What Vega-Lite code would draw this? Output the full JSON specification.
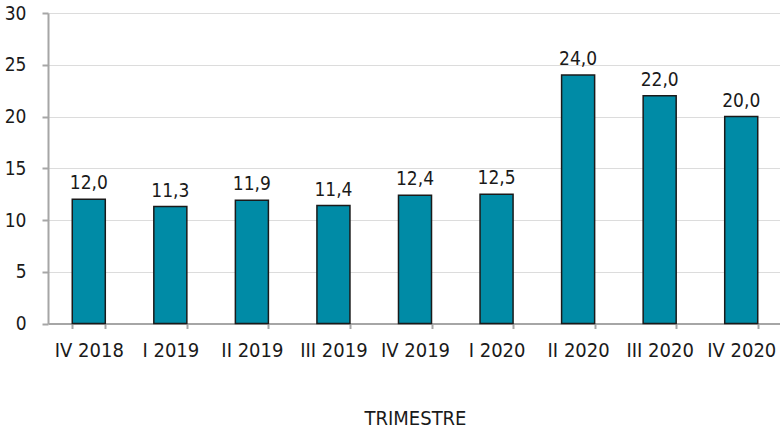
{
  "$schema": "https://vega.github.io/schema/vega-lite/v6.json",
  "autosize": {"type": "none"},
  "padding": {"left": 48, "top": 13, "right": 0, "bottom": 105.5},
  "width": 734,
  "height": 310.5,
  "background": "white",
  "config": {
    "locale": {"number": {"decimal": ",", "thousands": ".", "grouping": [3], "currency": ["", " €"]}},
    "view": {"stroke": null},
    "font": "'DejaVu Sans Condensed', 'Liberation Sans Narrow', sans-serif"
  },
  "data": {
    "values": [
      {"trimestre": "IV 2018", "valor": 12.0},
      {"trimestre": "I 2019", "valor": 11.3},
      {"trimestre": "II 2019", "valor": 11.9},
      {"trimestre": "III 2019", "valor": 11.4},
      {"trimestre": "IV 2019", "valor": 12.4},
      {"trimestre": "I 2020", "valor": 12.5},
      {"trimestre": "II 2020", "valor": 24.0},
      {"trimestre": "III 2020", "valor": 22.0},
      {"trimestre": "IV 2020", "valor": 20.0}
    ]
  },
  "encoding": {
    "x": {
      "field": "trimestre",
      "type": "nominal",
      "sort": null,
      "scale": {"paddingInner": 0.595, "paddingOuter": 0.2975},
      "axis": {
        "title": "TRIMESTRE",
        "titleFont": "'DejaVu Sans Condensed', 'Liberation Sans Narrow', sans-serif",
        "titleFontSize": 20,
        "titleFontWeight": "normal",
        "titleColor": "#1a1a1a",
        "titleBaseline": "alphabetic",
        "titleY": 100.5,
        "labelAngle": 0,
        "labelFontSize": 20,
        "labelColor": "#1a1a1a",
        "labelPadding": 12,
        "tickBand": "extent",
        "tickSize": 5,
        "tickColor": "#a6a6a6",
        "tickWidth": 2,
        "domainColor": "#a6a6a6",
        "domainWidth": 2,
        "grid": false
      }
    },
    "y": {
      "field": "valor",
      "type": "quantitative",
      "scale": {"domain": [0, 30], "nice": false},
      "axis": {
        "title": null,
        "values": [0, 5, 10, 15, 20, 25, 30],
        "labelFontSize": 19,
        "labelColor": "#1a1a1a",
        "labelPadding": 16,
        "tickSize": 6,
        "tickColor": "#a6a6a6",
        "tickWidth": 2,
        "domainColor": "#a6a6a6",
        "domainWidth": 2,
        "gridColor": "#dcdcdc",
        "gridWidth": 1
      }
    }
  },
  "layer": [
    {
      "mark": {"type": "bar", "color": "#008ba6", "stroke": "#1a1a1a", "strokeWidth": 1.5}
    },
    {
      "mark": {"type": "text", "baseline": "alphabetic", "dy": -10, "fontSize": 19, "color": "#1a1a1a"},
      "encoding": {
        "text": {"field": "valor", "type": "quantitative", "format": ".1f"}
      }
    }
  ]
}
